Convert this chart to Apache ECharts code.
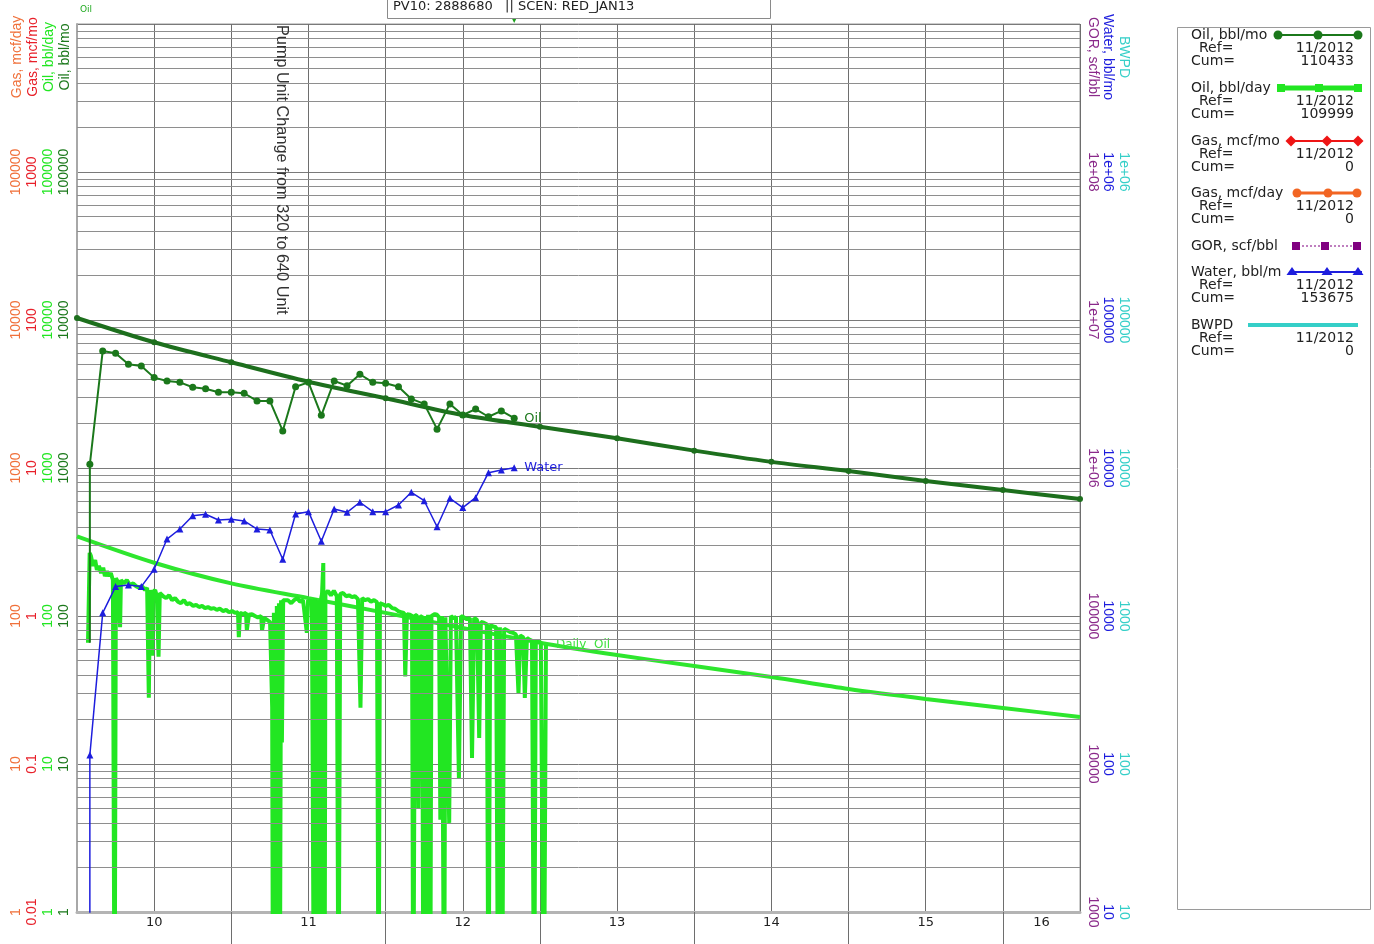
<!DOCTYPE html>
<html>
<head>
<meta charset="utf-8">
<title>Well production plot</title>
<script src="https://cdn.jsdelivr.net/npm/echarts@6/dist/echarts.min.js"></script>
<style>
  html, body { margin: 0; padding: 0; background: #fff; }
  #chart { width: 1374px; height: 944px; }
</style>
</head>
<body>
<div id="chart"></div>
<script>
// ---------------- data ----------------
// Monthly production, first of each month
const monthLabels = [
  '2010-02','2010-03','2010-04','2010-05','2010-06','2010-07','2010-08','2010-09','2010-10','2010-11','2010-12',
  '2011-01','2011-02','2011-03','2011-04','2011-05','2011-06','2011-07','2011-08','2011-09','2011-10','2011-11','2011-12',
  '2012-01','2012-02','2012-03','2012-04','2012-05','2012-06','2012-07','2012-08','2012-09','2012-10','2012-11'
];
const oilMonthly = [
  1060, 6180, 5960, 5020, 4890, 4080, 3870, 3790, 3510, 3430, 3250,
  3250, 3200, 2840, 2840, 1780, 3540, 3790, 2270, 3870, 3600, 4300, 3790,
  3740, 3540, 2930, 2710, 1830, 2710, 2280, 2500, 2220, 2430, 2170
];
const waterMonthly = [
  115, 1050, 1580, 1620, 1580, 2070, 3310, 3870, 4760, 4870, 4450,
  4500, 4390, 3870, 3810, 2420, 4890, 5070, 3200, 5280, 5020, 5870, 5070,
  5070, 5620, 6850, 6010, 4010, 6240, 5400, 6300, 9300, 9690, 10050
];

// Decline forecast, half-year steps
const forecastDates = [
  '2010-01','2010-07','2011-01','2011-07','2012-01','2012-07','2013-01',
  '2013-07','2014-01','2014-07','2015-01','2015-07','2016-01','2016-07'
];
const oilForecastMonthly = [10320, 7070, 5180, 3830, 2960, 2280, 1900, 1590, 1310, 1100, 954, 817, 710, 617];
const oilForecastDaily   = [345, 229, 166, 132, 105, 83, 66, 54.5, 45.9, 38.7, 32.1, 27.5, 23.9, 20.8];

// Daily oil rate: [day counted from 2010-01-01, bbl/day]; 0 = shut-in day
const dailyOil = [
  [26,66],[30,267],[33,254],[38,218],[43,239],[47,205],[52,218],[57,195],[62,212],[66,186],[71,200],[76,186],
  [80,195],[85,175],[89,0],[92,180],[97,170],[102,84],[104,175],[111,166],[118,175],[125,162],[133,166],[140,159],
  [147,155],[154,159],[161,150],[166,155],[170,28],[173,150],[178,54],[180,146],[185,150],[189,136],[193,53],[196,143],
  [204,136],[211,132],[218,138],[225,128],[232,132],[239,125],[246,122],[253,128],[260,120],[267,122],[275,117],
  [282,119],[289,115],[296,117],[303,113],[310,115],[317,112],[324,113],[331,110],[338,112],[346,108],[353,110],
  [360,106],[367,108],[374,105],[381,106],[383,72],[386,105],[393,103],[400,105],[402,80],[407,102],[414,103],
  [421,100],[428,98],[436,100],[438,80],[443,97],[450,94],[457,91],[462,24],[464,0],[466,105],[471,0],[473,117],
  [476,11],[478,122],[480,0],[483,128],[485,14],[488,128],[492,132],[499,128],[507,122],[514,128],[521,132],
  [528,125],[535,128],[544,77],[547,128],[552,124],[556,128],[561,0],[563,132],[568,0],[570,128],[575,0],[578,132],
  [580,141],[583,228],[586,0],[588,141],[594,148],[601,138],[608,148],[615,136],[619,0],[623,141],[630,143],
  [637,136],[644,138],[651,134],[658,136],[665,130],[671,24],[675,132],[682,128],[689,130],[696,125],[703,128],
  [710,124],[714,0],[717,122],[724,120],[731,117],[738,119],[746,113],[753,112],[760,108],[767,106],[774,105],
  [777,39],[781,103],[788,102],[793,100],[796,0],[800,102],[805,100],[808,5],[812,98],[817,100],[820,0],[824,100],
  [827,0],[831,102],[836,0],[839,100],[847,103],[852,102],[857,98],[860,4.2],[864,100],[869,0],[872,98],[881,4],
  [885,100],[890,97],[897,98],[904,8],[909,100],[916,98],[923,95],[930,97],[935,11],[940,97],[947,94],[952,15],
  [956,91],[963,90],[970,88],[974,0],[978,87],[985,85],[992,84],[997,0],[1001,84],[1006,0],[1011,82],[1018,80],
  [1025,78],[1032,77],[1039,75],[1045,30],[1049,74],[1056,72],[1060,28],[1065,71],[1072,69],[1077,68],[1082,0],
  [1086,68],[1091,67],[1098,66],[1105,0],[1110,64]
];

// Bottom axis: one label per calendar year, centred on the visible part of the year
const yearLabels   = ['10', '11', '12', '13', '14', '15', '16'];
const yearLabelAt  = [2010.5, 2011.5, 2012.5, 2013.5, 2014.5, 2015.5, 2016.25];
const yearBoundary = [2011, 2012, 2013, 2014, 2015, 2016];

// ---------------- helpers ----------------
const toYear = s => { const p = s.split('-').map(Number); return p[0] + (p[1] - 1) / 12; };
const dayToYear = d => 2010 + d / 365.25;
const BELOW_AXIS = 0.1;           // zero values sit below the log floor and get clipped
const logSafe = v => (v > 0 ? v : BELOW_AXIS);

function powLabel(v) {
  const e = Math.round(Math.log10(v));
  if (e >= 6) return '1e+' + String(e).padStart(2, '0');
  if (e < 0) return Math.pow(10, e).toFixed(-e);
  return String(Math.round(Math.pow(10, e)));
}

const C = {
  oilMo: '#1b781b', oilDay: '#22e622', gasMo: '#e8202a', gasDay: '#f0703a',
  gor: '#8a2a8a', water: '#1d1ddd', bwpd: '#35cfc8', grid: '#8e8e8e', vgrid: '#6e6e6e'
};
const AXIS_FONT = 'Liberation Sans, Arial, sans-serif';
const TEXT_FONT = 'DejaVu Sans, Verdana, sans-serif';

function sideAxis(position, offset, min, max, color) {
  return {
    type: 'log', logBase: 10, min, max, position, offset,
    axisLine: { show: false }, axisTick: { show: false }, splitLine: { show: false },
    axisLabel: {
      rotate: position === 'left' ? 90 : -90, margin: 6, color,
      fontFamily: AXIS_FONT, fontSize: 14, formatter: powLabel, showMaxLabel: false
    }
  };
}

// Minor log grid (2..9 within every decade of the main scale)
const minorGrid = [];
for (let e = 0; e < 6; e++) for (let k = 2; k <= 9; k++) minorGrid.push(k * Math.pow(10, e));

// ---------------- series data ----------------
const monthX = monthLabels.map(toYear);
// monthly oil rises from the first-day rate; water rises from nothing (start points carry no marker)
const oilMoData = [{ value: [monthX[0], dailyOil[0][1]], symbol: 'none' }]
  .concat(monthX.map((x, i) => [x, oilMonthly[i]]));
const waterData = [{ value: [monthX[0], BELOW_AXIS], symbol: 'none' }]
  .concat(monthX.map((x, i) => [x, waterMonthly[i]]));
const fcX = forecastDates.map(toYear);
const oilFcData = fcX.map((x, i) => [x, oilForecastMonthly[i]]);
const dayFcData = fcX.map((x, i) => [x, oilForecastDaily[i]]);
const dailyData = dailyOil.map(p => [dayToYear(p[0]), logSafe(p[1])]);
const lastMonthX = monthX[monthX.length - 1];

// ---------------- legend (drawn box) ----------------
const legendItems = [
  { name: 'Oil, bbl/mo',  ref: '11/2012', cum: '110433', color: C.oilMo,  lw: 2, mark: 'circle',   y: 35,  span: [1275, 1362], marks: [1278, 1318, 1358] },
  { name: 'Oil, bbl/day', ref: '11/2012', cum: '109999', color: C.oilDay, lw: 5, mark: 'square',   y: 88,  span: [1280, 1360], marks: [1281, 1319, 1358] },
  { name: 'Gas, mcf/mo',  ref: '11/2012', cum: '0',      color: '#ee1515', lw: 2, mark: 'diamond', y: 141, span: [1288, 1362], marks: [1291, 1327, 1358] },
  { name: 'Gas, mcf/day', ref: '11/2012', cum: '0',      color: '#f26522', lw: 3, mark: 'circle',  y: 193, span: [1295, 1360], marks: [1297, 1328, 1357] },
  { name: 'GOR, scf/bbl', color: '#800080', lw: 1, mark: 'square', dash: [2, 2], y: 246, span: [1294, 1360], marks: [1296, 1325, 1357] },
  { name: 'Water, bbl/m', ref: '11/2012', cum: '153675', color: C.water,  lw: 2, mark: 'triangle', y: 272, span: [1290, 1362], marks: [1292, 1327, 1358] },
  { name: 'BWPD',         ref: '11/2012', cum: '0',      color: C.bwpd,   lw: 4, mark: null,       y: 325, span: [1248, 1358], marks: [] }
];

function legendGraphics() {
  const g = [{
    type: 'rect', shape: { x: 1177.5, y: 27.5, width: 193, height: 882 },
    style: { fill: '#fff', stroke: '#9a9a9a', lineWidth: 1 }, z: 10
  }];
  const txt = (x, y, text, align) => ({
    type: 'text', x, y, z: 11,
    style: { text, font: '14px ' + TEXT_FONT, fill: '#222', align: align || 'left', verticalAlign: 'middle' }
  });
  legendItems.forEach(it => {
    g.push(txt(1191, it.y, it.name));
    g.push({
      type: 'line', z: 11,
      shape: { x1: it.span[0], y1: it.y, x2: it.span[1], y2: it.y },
      style: { stroke: it.color, lineWidth: it.lw, lineDash: it.dash || null }
    });
    it.marks.forEach(mx => {
      let m;
      if (it.mark === 'circle') m = { type: 'circle', shape: { cx: mx, cy: it.y, r: 4.5 } };
      else if (it.mark === 'square') m = { type: 'rect', shape: { x: mx - 4, y: it.y - 4, width: 8, height: 8 } };
      else if (it.mark === 'diamond') m = { type: 'polygon', shape: { points: [[mx, it.y - 5.5], [mx + 5.5, it.y], [mx, it.y + 5.5], [mx - 5.5, it.y]] } };
      else if (it.mark === 'triangle') m = { type: 'polygon', shape: { points: [[mx, it.y - 5], [mx + 5.5, it.y + 3], [mx - 5.5, it.y + 3]] } };
      if (m) { m.style = { fill: it.color }; m.z = 12; g.push(m); }
    });
    if (it.ref) {
      g.push(txt(1199, it.y + 13, 'Ref='));
      g.push(txt(1354, it.y + 13, it.ref, 'right'));
      g.push(txt(1191, it.y + 26, 'Cum='));
      g.push(txt(1354, it.y + 26, it.cum, 'right'));
    }
  });
  return g;
}

// Rotated axis captions above the value columns
function axisName(x, text, color, left) {
  return {
    type: 'text', x, y: 57, rotation: left ? Math.PI / 2 : -Math.PI / 2, z: 5,
    style: { text, font: '14px ' + AXIS_FONT, fill: color, align: 'center', verticalAlign: 'middle' }
  };
}

// ---------------- chart ----------------
const chart = echarts.init(document.getElementById('chart'), null, { renderer: 'canvas' });

chart.setOption({
  animation: false,
  backgroundColor: '#fff',
  grid: { left: 77, right: 294, top: 24, bottom: 32, show: true, borderColor: '#9a9a9a', borderWidth: 1, containLabel: false },
  xAxis: [
    {
      type: 'value', min: 2010, max: 2016.5, interval: 0.5,
      axisLine: { show: true, onZero: false, lineStyle: { color: '#b4b4b4', width: 3 } },
      axisTick: { show: false },
      splitLine: { show: true, lineStyle: { color: C.vgrid, width: 1 } },
      axisLabel: {
        customValues: yearLabelAt, margin: 4, color: '#222', fontFamily: TEXT_FONT, fontSize: 13,
        formatter: v => yearLabels[Math.floor(v + 1e-6) - 2010]
      }
    },
    {
      type: 'value', min: 2010, max: 2016.5, interval: 1, position: 'bottom',
      axisLine: { show: false }, axisLabel: { show: false }, splitLine: { show: false },
      axisTick: { show: true, length: 32, customValues: yearBoundary, lineStyle: { color: C.vgrid, width: 1 } }
    }
  ],
  yAxis: [
    Object.assign(sideAxis('left', 0, 1, 1e6, C.oilMo), {
      axisLine: { show: true, lineStyle: { color: '#a8a8a8', width: 2 } },
      splitLine: { show: true, lineStyle: { color: '#7a7a7a', width: 1 } }
    }),
    sideAxis('left', 16, 1, 1e6, C.oilDay),
    sideAxis('left', 32, 0.01, 1e4, C.gasMo),
    sideAxis('left', 48, 1, 1e6, C.gasDay),
    sideAxis('right', 0, 1e3, 1e9, C.gor),
    sideAxis('right', 15, 10, 1e7, C.water),
    sideAxis('right', 31, 10, 1e7, C.bwpd)
  ],
  series: [
    {
      name: 'minor grid', type: 'line', data: [], yAxisIndex: 0, z: 0, silent: true,
      markLine: {
        silent: true, symbol: ['none', 'none'], animation: false, label: { show: false },
        lineStyle: { color: C.grid, width: 1, type: 'solid' },
        emphasis: { disabled: true },
        data: minorGrid.map(v => ({ yAxis: v }))
      }
    },
    {
      name: 'Daily forecast', type: 'line', data: dayFcData, yAxisIndex: 1, z: 3,
      showSymbol: false, smooth: 0.3, lineStyle: { color: '#2ee62e', width: 4 }, itemStyle: { color: '#2ee62e' }
    },
    {
      name: 'Oil, bbl/day', type: 'line', data: dailyData, yAxisIndex: 1, z: 4, clip: true,
      showSymbol: false, lineStyle: { color: C.oilDay, width: 4 }, itemStyle: { color: C.oilDay },
      endLabel: { show: true, formatter: 'Daily  Oil', color: '#3ee03e', fontFamily: TEXT_FONT, fontSize: 12, distance: 10 }
    },
    {
      name: 'Oil forecast', type: 'line', data: oilFcData, yAxisIndex: 0, z: 5,
      symbol: 'circle', symbolSize: 6, smooth: 0.3,
      lineStyle: { color: '#1d6f1d', width: 4 }, itemStyle: { color: '#1d6f1d' }
    },
    {
      name: 'Water, bbl/mo', type: 'line', data: waterData, yAxisIndex: 5, z: 6, clip: true,
      symbol: 'triangle', symbolSize: 7, lineStyle: { color: C.water, width: 1.5 }, itemStyle: { color: C.water },
      endLabel: { show: true, formatter: 'Water', color: C.water, fontFamily: TEXT_FONT, fontSize: 13, distance: 10 }
    },
    {
      name: 'Oil, bbl/mo', type: 'line', data: oilMoData, yAxisIndex: 0, z: 7, clip: true,
      symbol: 'circle', symbolSize: 7, showSymbol: true,
      lineStyle: { color: C.oilMo, width: 2 }, itemStyle: { color: C.oilMo },
      endLabel: { show: true, formatter: 'Oil', color: C.oilMo, fontFamily: TEXT_FONT, fontSize: 13, distance: 10 },
      markPoint: {
        silent: true, symbol: 'triangle', symbolRotate: 180, symbolSize: 8, symbolOffset: [0, -5],
        itemStyle: { color: '#1aa01a' }, label: { show: false },
        data: [{ coord: [lastMonthX, 1e6] }]
      }
    }
  ],
  graphic: [
    // scenario header box
    { type: 'rect', shape: { x: 387.5, y: -10, width: 383, height: 28.5 }, style: { fill: '#fff', stroke: '#8a8a8a', lineWidth: 1 }, z: 10 },
    { type: 'text', x: 393, y: 7, z: 11, style: { text: 'PV10: 2888680   || SCEN: RED_JAN13', font: '13px ' + TEXT_FONT, fill: '#222', verticalAlign: 'middle' } },
    { type: 'text', x: 80, y: 10, z: 11, style: { text: 'Oil', font: '9px ' + TEXT_FONT, fill: '#22aa22', verticalAlign: 'middle' } },
    // event note
    { type: 'text', x: 281, y: 25, rotation: -Math.PI / 2, z: 9,
      style: { text: 'Pump Unit Change from 320 to 640 Unit', font: '16.3px ' + AXIS_FONT, fill: '#333', align: 'left', verticalAlign: 'middle' } },
    // axis captions
    axisName(17, 'Gas, mcf/day', C.gasDay, true),
    axisName(33, 'Gas, mcf/mo', C.gasMo, true),
    axisName(49, 'Oil, bbl/day', C.oilDay, true),
    axisName(65, 'Oil, bbl/mo', C.oilMo, true),
    axisName(1093, 'GOR, scf/bbl', C.gor, false),
    axisName(1108, 'Water, bbl/mo', C.water, false),
    axisName(1124, 'BWPD', C.bwpd, false)
  ].concat(legendGraphics())
});
</script>
</body>
</html>
